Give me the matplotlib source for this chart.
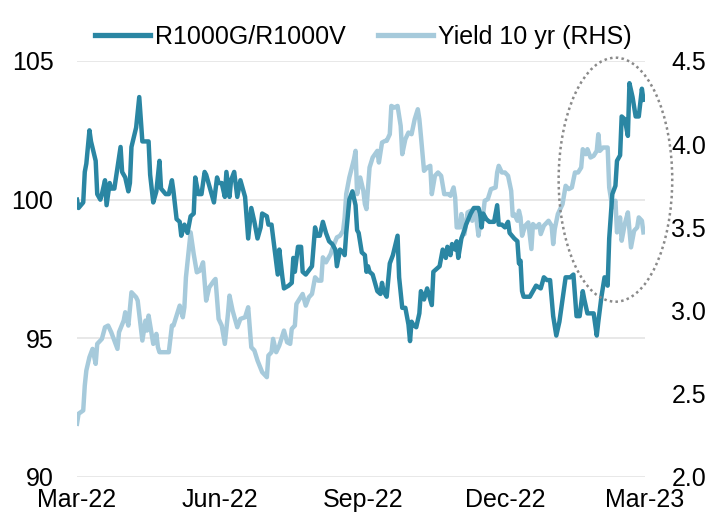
import numpy as np
import matplotlib
matplotlib.use('Agg')
import matplotlib.pyplot as plt
import matplotlib.dates as mdates
from matplotlib.patches import Ellipse
from matplotlib.lines import Line2D
from matplotlib.transforms import blended_transform_factory

plt.rcParams['font.family'] = ['Liberation Sans', 'DejaVu Sans']

# days since 1 Mar 2022
start = np.datetime64('2022-03-01')

ratio_days = [0, 1, 4, 5, 6, 8, 9, 12, 13, 15, 16, 18, 19, 21, 22, 24, 28, 29, 31, 33,
              34, 35, 38, 40, 42, 46, 47, 49, 51, 53, 54, 57, 59, 61, 62, 64, 66, 67, 69, 71,
              73, 75, 76, 78, 80, 82, 83, 86, 88, 90, 91, 93, 95, 96, 98, 99, 101, 103, 105, 107,
              108, 110, 112, 114, 116, 118, 119, 122, 123, 125, 127, 129, 130, 132, 133, 136, 138, 139, 140, 142,
              144, 145, 147, 151, 153, 154, 156, 158, 160, 162, 164, 166, 167, 169, 171, 172, 173, 175, 177, 179,
              180, 181, 183, 185, 186, 187, 188, 190, 193, 195, 196, 197, 199, 201, 203, 206, 207, 209, 211, 212,
              213, 214, 215, 216, 218, 220, 221, 223, 225, 228, 229, 231, 233, 235, 237, 238, 240, 241, 243, 244,
              245, 247, 249, 250, 253, 255, 258, 259, 260, 261, 263, 265, 268, 269, 270, 271, 273, 275, 277, 278,
              281, 283, 284, 285, 286, 287, 291, 293, 295, 298, 300, 302, 304, 306, 308, 310, 313, 314, 317, 319,
              321, 323, 325, 326, 328, 330, 332, 334, 335, 337, 339, 341, 342, 344, 346, 347, 349, 350, 352, 354,
              355, 357, 359, 361, 363, 364]
ratio_vals = [100.0, 99.7, 99.9, 101.0, 101.3, 102.5, 102.1, 101.4, 100.2, 100.0, 100.2, 100.7, 99.8, 100.6, 100.4, 100.4, 101.9, 101.0, 100.8, 100.3,
              100.6, 101.9, 102.6, 103.7, 102.1, 102.1, 100.9, 99.9, 100.3, 101.4, 100.4, 100.2, 100.2, 100.7, 100.3, 99.3, 99.2, 98.7, 99.1, 98.8,
              99.4, 99.5, 100.8, 100.2, 100.2, 101.0, 100.9, 100.3, 99.9, 100.8, 100.6, 100.6, 100.1, 101.0, 100.1, 100.7, 101.0, 100.1, 100.7, 100.3,
              100.1, 98.6, 99.7, 99.2, 98.6, 99.0, 99.5, 99.4, 99.1, 99.1, 98.2, 97.3, 98.2, 97.2, 96.8, 96.9, 97.0, 97.9, 97.4, 98.3,
              98.3, 97.4, 97.3, 97.6, 99.0, 98.7, 98.7, 99.2, 98.8, 98.5, 98.4, 98.2, 97.6, 98.2, 98.1, 98.0, 98.8, 100.0, 100.3, 99.8,
              98.9, 98.8, 98.1, 98.0, 97.4, 97.6, 97.4, 97.3, 96.7, 96.6, 97.0, 96.7, 96.5, 97.7, 98.0, 98.7, 97.2, 96.1, 96.1, 95.8,
              95.5, 94.9, 95.6, 95.5, 95.4, 95.9, 96.7, 96.4, 96.8, 96.2, 97.4, 97.5, 97.6, 98.2, 97.9, 98.3, 98.0, 98.4, 98.2, 98.5,
              97.9, 98.6, 98.9, 99.1, 99.5, 99.7, 99.7, 99.5, 99.0, 99.5, 99.3, 99.2, 99.2, 99.5, 99.8, 99.1, 99.1, 99.0, 99.2, 98.8,
              98.6, 98.5, 97.7, 97.8, 96.7, 96.5, 96.5, 96.7, 96.9, 96.8, 97.2, 97.1, 97.1, 95.8, 95.1, 95.6, 96.8, 97.2, 97.2, 97.3,
              95.8, 95.8, 96.7, 96.4, 95.9, 95.9, 95.9, 95.1, 95.6, 96.5, 97.2, 96.9, 98.6, 100.2, 100.5, 101.4, 101.6, 103.0, 102.9, 102.3,
              104.2, 103.7, 103.0, 103.0, 104.0, 103.6]

yield_days = [0, 1, 4, 5, 6, 8, 10, 12, 13, 16, 18, 20, 22, 26, 27, 30, 31, 33, 35, 38,
              39, 42, 44, 45, 46, 49, 51, 52, 53, 57, 59, 61, 62, 64, 66, 68, 69, 70, 73, 75,
              77, 79, 81, 83, 85, 88, 89, 91, 93, 95, 97, 98, 100, 103, 105, 108, 110, 112, 114, 116,
              119, 122, 123, 125, 126, 128, 130, 133, 135, 137, 138, 140, 141, 143, 145, 147, 149, 151, 153, 155,
              157, 158, 160, 163, 164, 167, 169, 171, 172, 173, 175, 178, 179, 180, 182, 184, 185, 186, 188, 190,
              193, 194, 196, 198, 199, 201, 202, 204, 206, 208, 209, 211, 213, 215, 217, 219, 220, 221, 223, 225,
              227, 228, 230, 232, 234, 236, 239, 240, 242, 243, 244, 246, 247, 249, 251, 253, 254, 256, 258, 259,
              261, 262, 264, 266, 269, 270, 271, 273, 275, 277, 279, 280, 281, 283, 284, 285, 286, 288, 290, 292,
              293, 295, 297, 298, 300, 302, 303, 305, 306, 307, 309, 312, 314, 316, 318, 320, 322, 324, 325, 327,
              328, 330, 332, 334, 335, 336, 338, 341, 342, 344, 346, 347, 349, 350, 352, 354, 356, 358, 360, 361,
              363, 364]
yield_vals = [2.32, 2.38, 2.40, 2.55, 2.64, 2.72, 2.77, 2.68, 2.80, 2.83, 2.90, 2.91, 2.87, 2.77, 2.87, 2.94, 2.99, 2.91, 3.11, 3.08,
              3.06, 2.82, 2.94, 2.88, 2.97, 2.80, 2.86, 2.78, 2.75, 2.75, 2.75, 2.91, 2.91, 2.97, 3.03, 2.96, 3.02, 3.20, 3.47, 3.34,
              3.23, 3.24, 3.29, 3.06, 3.14, 3.18, 3.19, 2.95, 2.91, 2.80, 2.98, 3.09, 3.00, 2.90, 2.95, 2.96, 3.02, 2.78, 2.76, 2.70,
              2.63, 2.60, 2.73, 2.75, 2.83, 2.75, 2.79, 2.88, 2.81, 2.80, 2.89, 2.91, 3.04, 3.07, 3.10, 3.03, 3.08, 3.10, 3.20, 3.18,
              3.18, 3.32, 3.29, 3.34, 3.37, 3.44, 3.45, 3.48, 3.56, 3.70, 3.80, 3.91, 3.96, 3.70, 3.80, 3.72, 3.64, 3.61, 3.86, 3.92,
              3.96, 3.89, 4.01, 4.02, 4.02, 4.06, 4.23, 4.22, 4.23, 4.11, 3.94, 4.03, 4.07, 4.06, 4.15, 4.21, 4.15, 4.05, 3.84, 3.86,
              3.87, 3.70, 3.81, 3.83, 3.81, 3.70, 3.70, 3.69, 3.74, 3.68, 3.50, 3.50, 3.58, 3.46, 3.59, 3.60, 3.54, 3.60, 3.45, 3.52,
              3.58, 3.66, 3.67, 3.73, 3.74, 3.83, 3.87, 3.83, 3.83, 3.81, 3.72, 3.57, 3.58, 3.54, 3.60, 3.56, 3.45, 3.51, 3.53, 3.37,
              3.52, 3.50, 3.52, 3.46, 3.51, 3.53, 3.54, 3.51, 3.40, 3.49, 3.58, 3.64, 3.75, 3.73, 3.74, 3.83, 3.83, 3.86, 3.97, 3.94,
              3.97, 3.92, 3.93, 3.96, 4.06, 3.96, 3.98, 3.98, 3.74, 3.62, 3.66, 3.47, 3.56, 3.42, 3.52, 3.59, 3.38, 3.48, 3.50, 3.56,
              3.54, 3.47]

left_ticks = [90, 95, 100, 105]
right_ticks = [2.0, 2.5, 3.0, 3.5, 4.0, 4.5]

dark = '#2a86a3'
light = '#a6cadb'
fs = 18

ratio_dates = start + np.array(ratio_days).astype('timedelta64[D]')
yield_dates = start + np.array(yield_days).astype('timedelta64[D]')

fig = plt.figure(figsize=(7.16, 5.2), dpi=100)
ax = fig.add_axes([77 / 716, 1 - 477 / 520, 568 / 716, 416 / 520])
ax2 = ax.twinx()
ax.set_zorder(ax2.get_zorder() + 1)
ax.patch.set_visible(False)

# gridlines live on the back axis so both series sit on top of them
trans = blended_transform_factory(ax2.transAxes, ax.transData)
for v in left_ticks:
    ax2.add_line(Line2D([0, 1], [v, v], transform=trans, color='#e6e6e6', lw=1.3, zorder=0))

ax2.plot(yield_dates, yield_vals, color=light, lw=3.2, solid_joinstyle='round')
ax.plot(ratio_dates, ratio_vals, color=dark, lw=3.2, solid_joinstyle='round')

ax.set_ylim(90, 105)
ax2.set_ylim(2.0, 4.5)
ax.set_xlim(start, np.datetime64('2023-03-01'))
ax.set_yticks(left_ticks)
ax.set_yticklabels([str(t) for t in left_ticks])
ax2.set_yticks(right_ticks)
ax2.set_yticklabels(['%.1f' % t for t in right_ticks])
ax.xaxis.set_major_locator(mdates.MonthLocator(bymonth=[3, 6, 9, 12]))
ax.xaxis.set_major_formatter(mdates.DateFormatter('%b-%y'))

ax.tick_params(axis='y', length=0, pad=17, labelsize=fs)
ax.tick_params(axis='x', length=0, pad=8, labelsize=fs)
ax2.tick_params(axis='y', length=0, pad=19, labelsize=fs)
for a in (ax, ax2):
    for s in a.spines.values():
        s.set_visible(False)

# dotted ring around the recent move
cx = mdates.date2num(start + np.timedelta64(346, 'D'))
ring = Ellipse((cx, 100.72), width=73, height=8.8, fill=False, edgecolor='#8a8a8a',
               lw=1.8, linestyle=(0, (1, 1.3)), clip_on=False, zorder=5)
ax.add_patch(ring)

handles = [Line2D([], [], color=dark, lw=3.8), Line2D([], [], color=light, lw=3.8)]
fig.legend(handles, ['R1000G/R1000V', 'Yield 10 yr (RHS)'], loc='center',
           bbox_to_anchor=(363 / 716, 1 - 37 / 520), ncol=2, frameon=False, fontsize=fs,
           handlelength=2.2, handletextpad=0.2, columnspacing=1.3, borderaxespad=0)

fig.savefig('out.png', dpi=100, facecolor='white')
